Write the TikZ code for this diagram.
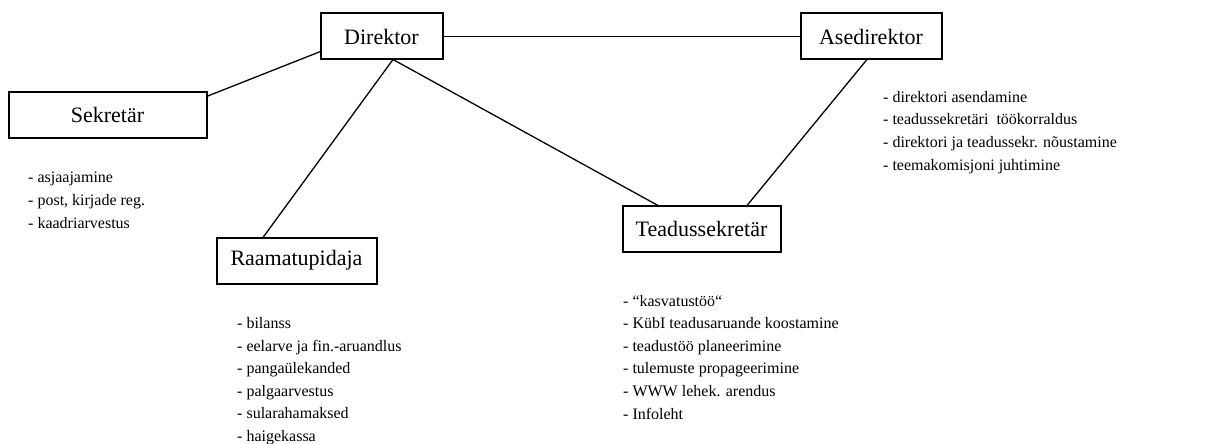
\documentclass[tikz,border=0pt]{standalone}
\usepackage{fontspec}
\setmainfont{Liberation Serif}
\tikzset{
  box/.style={draw, line width=2pt, inner sep=0pt, outer sep=0pt, font=\fontsize{22}{26}\selectfont},
  link/.style={line width=1.3pt},
  duties/.style={anchor=base west, align=left, inner sep=0pt, font=\fontsize{16}{22.6}\selectfont}
}
\begin{document}
\begin{tikzpicture}[x=1pt,y=-1pt]
\useasboundingbox (0,0) rectangle (1224,444);
\node[box, minimum width=122pt, minimum height=46pt] (dir) at (381.5,36.5) {Direktor};
\node[box, minimum width=141pt, minimum height=46pt] (ase) at (871,36.5) {Asedirektor};
\node[box, minimum width=198pt, minimum height=45pt] (sek) at (107.5,115) {Sekretär};
\node[box, minimum width=158pt, minimum height=46pt] (tead) at (701.5,228.5) {Teadussekretär};
\node[box, minimum width=160pt, minimum height=46pt] (raam) at (296.5,260.5) {Raamatupidaja};

\draw[link] (dir.east) -- (ase.west);
\draw[link] ([yshift=8pt]dir.south west) -- ([yshift=-4pt]sek.north east);
\draw[link] ([xshift=11.5pt]dir.south) -- ([xshift=-33.5pt]raam.north);
\draw[link] ([xshift=11.5pt]dir.south) -- ([xshift=-43.5pt]tead.north);
\draw[link] ([xshift=-4pt]ase.south) -- ([xshift=45.5pt]tead.north);

% anchored at the baseline of the last line
\node[duties] (sekl) at (28,228) {- asjaajamine\\- post, kirjade reg.\\- kaadriarvestus};
\node[duties] (asel) at (883,170) {- direktori asendamine\\- teadussekretäri\ \ töökorraldus\\- direktori ja teadussekr. nõustamine\\- teemakomisjoni juhtimine};
\node[duties] (raaml) at (237,441.5) {- bilanss\\- eelarve ja fin.-aruandlus\\- pangaülekanded\\- palgaarvestus\\- sularahamaksed\\- haigekassa};
\node[duties] (teadl) at (623,419) {- “kasvatustöö“\\- KübI teadusaruande koostamine\\- teadustöö planeerimine\\- tulemuste propageerimine\\- WWW lehek. arendus\\- Infoleht};
\end{tikzpicture}
\end{document}
